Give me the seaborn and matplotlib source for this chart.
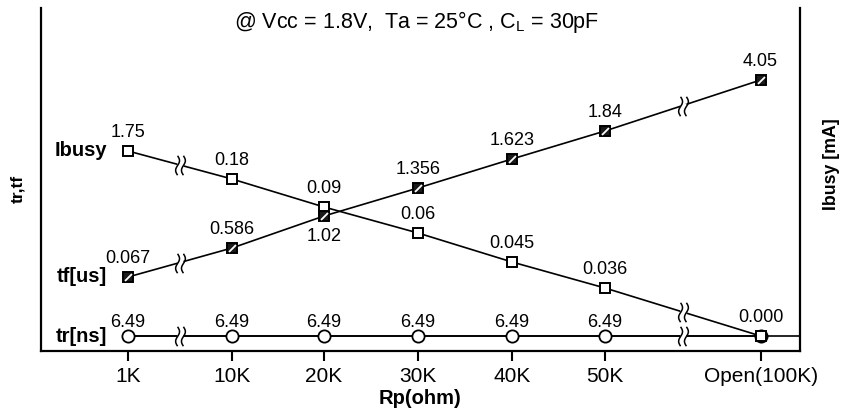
import numpy as np
import seaborn as sns
import matplotlib.pyplot as plt
from matplotlib.path import Path

# Rp values on the x axis (axis is broken, so slots are not to scale)
rp_labels = ['1K', '10K', '20K', '30K', '40K', '50K', 'Open(100K)']
rp_pos = [0, 1.106, 2.085, 3.085, 4.085, 5.074, 6.73]

# values printed next to each point (tr has no label at Open)
ibusy_text = ['1.75', '0.18', '0.09', '0.06', '0.045', '0.036', '0.000']
tf_text = ['0.067', '0.586', '1.02', '1.356', '1.623', '1.84', '4.05']
tr_text = ['6.49', '6.49', '6.49', '6.49', '6.49', '6.49', '']

# drawn heights (schematic, not to scale)
ibusy_level = [200, 172, 144, 118, 89, 63, 15]
tf_level = [74, 103, 135, 163, 192, 220, 271]
tr_level = [15, 15, 15, 15, 15, 15, 15]

# gaps between these slots carry a break mark
break_gaps = [(0, 1), (5, 6)]

sns.set_style('white')
plt.rcParams['font.family'] = ['Liberation Sans', 'DejaVu Sans']
plt.rcParams['mathtext.default'] = 'regular'
plt.rcParams['text.color'] = 'black'
plt.rcParams['axes.labelcolor'] = 'black'

fig = plt.figure(figsize=(8.5, 4.16), dpi=100)
ax = fig.add_axes([41 / 850, 1 - 351 / 416, (800 - 41) / 850, (351 - 8) / 416])
ax.set_xlim(-0.926, 7.149)
ax.set_ylim(0, 343)

common = dict(color='black', lw=1.2, markeredgecolor='black', ax=ax, zorder=3)

# tr runs on to the right spine
ax.hlines(tr_level[0], rp_pos[0], ax.get_xlim()[1], color='black', lw=1.2, zorder=2)
sns.lineplot(x=rp_pos, y=tr_level, marker='o', markersize=8.8,
             markerfacecolor='white', markeredgewidth=1.3, **common)
sns.lineplot(x=rp_pos, y=ibusy_level, marker='s', markersize=7.8,
             markerfacecolor='white', markeredgewidth=1.4, **common)
sns.lineplot(x=rp_pos, y=tf_level, marker='s', markersize=6.5,
             markerfacecolor='#1a1a1a', markeredgewidth=1.4, **common)
# white diagonal stroke on the tf squares
slash = Path([(-1, -1), (1, 1)], [Path.MOVETO, Path.LINETO])
ax.plot(rp_pos, tf_level, ls='none', marker=slash, markersize=5,
        markeredgecolor='white', markeredgewidth=1.3, zorder=4)

# break marks: two wavy vertical strokes
t = np.linspace(-1, 1, 25)
verts, codes = [], []
for c in (-0.3, 0.3):
    pts = list(zip(c + 0.2 * np.sin(np.pi * t), t))
    verts += pts
    codes += [Path.MOVETO] + [Path.LINETO] * (len(pts) - 1)
squiggle = Path(verts, codes)
for level in (ibusy_level, tf_level, tr_level):
    for a, b in break_gaps:
        bx = (rp_pos[a] + rp_pos[b]) / 2
        by = (level[a] + level[b]) / 2
        ax.plot(bx, by, marker='s', markersize=4, markerfacecolor='white',
                markeredgecolor='none', zorder=5)
        ax.plot(bx, by, marker=squiggle, markersize=14, markerfacecolor='none',
                markeredgecolor='black', markeredgewidth=1.1, zorder=6)

# value labels
for i, x in enumerate(rp_pos):
    ax.annotate(ibusy_text[i], (x, ibusy_level[i]), xytext=(0, 13),
                textcoords='offset points', ha='center', va='center', fontsize=13)
    dy = -14.5 if i == 2 else 13
    ax.annotate(tf_text[i], (x, tf_level[i]), xytext=(0, dy),
                textcoords='offset points', ha='center', va='center', fontsize=13)
    if tr_text[i]:
        ax.annotate(tr_text[i], (x, tr_level[i]), xytext=(0, 10),
                    textcoords='offset points', ha='center', va='center', fontsize=13)

# series names left of the first points
for name, level in (('Ibusy', ibusy_level), ('tf[us]', tf_level), ('tr[ns]', tr_level)):
    ax.annotate(name, (rp_pos[0], level[0]), xytext=(-15, 0), textcoords='offset points',
                ha='right', va='center', fontsize=14.5, fontweight='bold')

ax.set_xticks(rp_pos)
ax.set_xticklabels(rp_labels)
ax.set_yticks([])
ax.tick_params(axis='x', direction='out', length=7.5, width=1.5, pad=4,
               labelsize=15, colors='black', bottom=True)
ax.set_xlabel('Rp(ohm)', fontsize=14.5, fontweight='bold', labelpad=2)
ax.set_ylabel('')
for side in ('left', 'right', 'bottom'):
    ax.spines[side].set_color('black')
    ax.spines[side].set_linewidth(1.6)
ax.spines['top'].set_visible(False)

fig.text(417 / 850, 1 - 22 / 416, '@ Vcc = 1.8V,  Ta = 25°C , C$_{L}$ = 30pF',
         ha='center', va='center', fontsize=15.5)
fig.text(18 / 850, 1 - 189 / 416, 'tr,tf', rotation=90, ha='center', va='center',
         fontsize=12.5, fontweight='bold')
fig.text(831 / 850, 1 - 164 / 416, 'Ibusy [mA]', rotation=90, ha='center', va='center',
         fontsize=12.8, fontweight='bold')

fig.savefig('out.png', dpi=100)
